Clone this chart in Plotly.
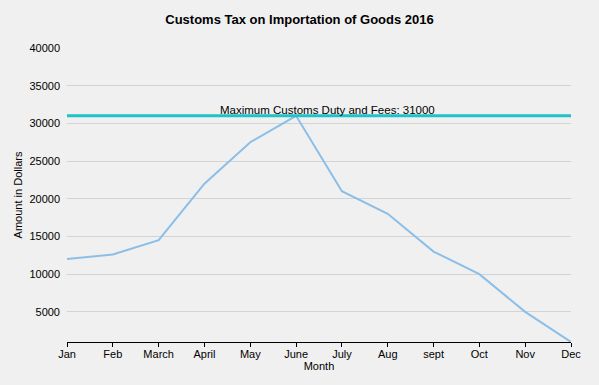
import plotly.graph_objects as go

months = ["Jan", "Feb", "March", "April", "May", "June", "July", "Aug", "sept", "Oct", "Nov", "Dec"]
amounts = [12000, 12600, 14500, 22000, 27500, 31000, 21000, 18000, 13000, 10000, 5000, 1000]
max_duty = 31000
y_ticks = [5000, 10000, 15000, 20000, 25000, 30000, 35000, 40000]

fig = go.Figure()
fig.add_trace(go.Scatter(x=list(range(len(months))), y=amounts, mode="lines",
                         line=dict(color="#8BBFE8", width=2), showlegend=False,
                         hoverinfo="skip"))
fig.add_shape(type="line", xref="paper", x0=0, x1=1, yref="y", y0=max_duty, y1=max_duty,
              line=dict(color="#1EC3C8", width=3))
fig.add_annotation(xref="paper", x=0.516, yref="y", y=max_duty, yanchor="bottom",
                   text=f"Maximum Customs Duty and Fees: {max_duty}", showarrow=False,
                   font=dict(size=11.5, color="black"), yshift=-2)

fig.update_layout(
    width=599, height=385,
    paper_bgcolor="#F0F0F0", plot_bgcolor="#F0F0F0",
    margin=dict(l=67, r=28, t=48, b=43, autoexpand=False),
    font=dict(family="Liberation Sans, Arial, sans-serif", size=11, color="black"),
    title=dict(text="<b>Customs Tax on Importation of Goods 2016</b>", x=0.5, xanchor="center",
               y=0.95, yanchor="middle", font=dict(size=13)),
    xaxis=dict(tickmode="array", tickvals=list(range(len(months))), ticktext=months,
               range=[0, len(months) - 1], showgrid=False, showline=True, linecolor="black",
               linewidth=1, ticks="outside", ticklen=4, tickcolor="black", automargin=False,
               ticklabelstandoff=-2,
               title=dict(text="Month", standoff=2, font=dict(size=11)), zeroline=False),
    yaxis=dict(range=[1000, 40000], tickmode="array", tickvals=y_ticks,
               ticktext=[str(v) for v in y_ticks], showgrid=True, gridcolor="#D3D3D3",
               gridwidth=1, zeroline=False, showline=False, ticks="", automargin=False,
               ticklabelstandoff=6,
               title=dict(text="Amount in Dollars", standoff=4, font=dict(size=11))),
)

fig.write_html("out.html", config={"displayModeBar": False},
               post_script="document.body.style.margin='0';"
                           "document.body.style.background='#F0F0F0';")
